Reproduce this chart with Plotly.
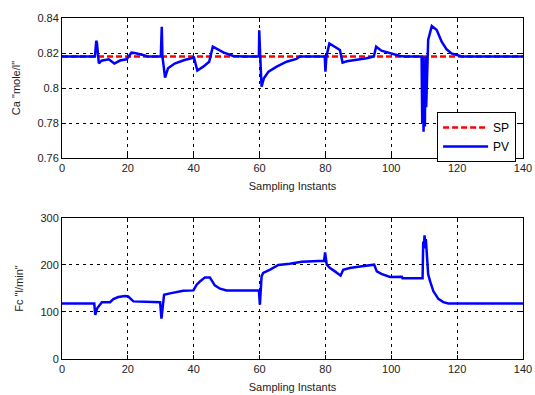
import plotly.graph_objects as go

# ---- data ----
x_range = [0, 140]
sp_x = [0, 140]
sp_y = [0.818, 0.818]

ca_x = [0, 10.0, 10.4, 10.6, 11.2, 12.0, 14.2, 15.9, 17.6, 19.6, 21.1, 22.1, 24.6, 26.0,
        30.0, 30.3, 30.5, 31.3, 32.2, 34.2, 37.2, 39.7, 40.0, 41.1, 42.9, 44.7, 45.8,
        49.0, 52.0, 55.0, 59.8, 59.9, 60.2, 60.6, 61.3, 62.7, 65.2, 68.2, 71.2, 72.2,
        79.8, 80.0, 80.3, 81.2, 84.4, 85.2, 86.5, 89.5, 92.5, 94.7, 95.4, 97.0, 99.6,
        102.7, 104.0, 109.2, 109.4, 109.6, 109.8, 110.0, 110.2, 110.4, 110.6, 110.9,
        111.2, 112.3, 113.8, 115.3, 116.8, 118.3, 119.9, 121.4, 140]
ca_y = [0.818, 0.818, 0.827, 0.826, 0.814, 0.8156, 0.8164, 0.814, 0.8157, 0.8164, 0.8202,
        0.820, 0.8189, 0.818,
        0.818, 0.835, 0.818, 0.806, 0.8113, 0.814, 0.816, 0.8172, 0.818, 0.810, 0.8122,
        0.815, 0.8236, 0.8204, 0.8183, 0.818, 0.818, 0.833, 0.818, 0.8007, 0.8055, 0.8093,
        0.8122, 0.815, 0.8166, 0.818,
        0.818, 0.8093, 0.818, 0.8255, 0.8217, 0.8145, 0.8153, 0.816, 0.817, 0.818, 0.8236,
        0.8213, 0.8198, 0.8183, 0.818, 0.818, 0.780, 0.818, 0.775, 0.800, 0.778, 0.818,
        0.789, 0.8187, 0.8274, 0.8354, 0.8331, 0.8265, 0.8221, 0.8198, 0.8187, 0.818, 0.818]

fc_x = [0, 9.8, 10.1, 10.7, 12.1, 14.6, 15.6, 17.1, 19.1, 20.1, 21.7, 29.8, 30.2, 31.0,
        32.8, 34.8, 36.8, 39.9, 40.9, 41.9, 43.4, 44.9, 46.4, 48.0, 50.0, 59.8, 60.1,
        60.6, 61.1, 63.2, 65.7, 69.2, 72.8, 79.6, 79.9, 80.4, 81.4, 82.9, 84.6, 85.4,
        87.4, 90.5, 94.0, 94.8, 95.6, 97.0, 99.6, 103.2, 103.4, 109.5, 109.7, 109.9,
        110.1, 110.3, 110.5, 110.8, 111.2, 111.8, 112.8, 114.3, 115.8, 117.3, 140]
fc_y = [118, 118, 94, 108, 121, 121, 127.6, 131.9, 134, 133, 122.6, 121, 85.7, 136.8,
        139.6, 142.4, 145.3, 146, 158, 165, 173.6, 173.6, 156.6, 149.6, 146, 146, 115.6,
        175.8, 183, 190, 200, 202.8, 207, 209, 227, 200.7, 193.6, 186.4, 177.3, 190,
        193.6, 197, 200.7, 200.7, 186.4, 181, 174.5, 175, 172, 172, 250, 235,
        263, 245, 255, 222, 180, 165, 144, 128, 121, 118, 118]

x_ticks = [0, 20, 40, 60, 80, 100, 120, 140]
ca_ticks = [0.76, 0.78, 0.8, 0.82, 0.84]
ca_tick_text = ["0.76", "0.78", "0.8", "0.82", "0.84"]
fc_ticks = [0, 100, 200, 300]

# ---- figure ----
fig = go.Figure()
fig.add_trace(go.Scatter(x=sp_x, y=sp_y, mode="lines", name="SP",
                         line=dict(color="#ff0000", width=2.5, dash="6px,3px"),
                         xaxis="x", yaxis="y"))
fig.add_trace(go.Scatter(x=ca_x, y=ca_y, mode="lines", name="PV",
                         line=dict(color="#0000ff", width=2.5),
                         xaxis="x", yaxis="y"))
fig.add_trace(go.Scatter(x=fc_x, y=fc_y, mode="lines", showlegend=False,
                         line=dict(color="#0000ff", width=2.5),
                         xaxis="x2", yaxis="y2"))

font = dict(family="Liberation Sans, Arial, sans-serif", size=11, color="#222222")
grid = dict(showgrid=True, gridcolor="#000000", griddash="3px,4px", gridwidth=1,
            zeroline=False, showline=True, linecolor="#000000", linewidth=1,
            mirror="ticks", ticks="inside", ticklen=4, tickcolor="#000000",
            tickfont=font, automargin=False)

fig.update_layout(
    width=535, height=395,
    margin=dict(l=62, r=12, t=18, b=36),
    paper_bgcolor="white", plot_bgcolor="white",
    font=font,
    xaxis=dict(domain=[0, 1], range=x_range, tickvals=x_ticks, anchor="y",
               title=dict(text="Sampling Instants", font=font, standoff=9), **grid),
    yaxis=dict(domain=[0.5894, 1.0], range=[0.76, 0.84], tickvals=ca_ticks,
               ticktext=ca_tick_text, anchor="x",
               title=dict(text='Ca "mole/l"', font=font, standoff=14), **grid),
    xaxis2=dict(domain=[0, 1], range=x_range, tickvals=x_ticks, anchor="y2",
                title=dict(text="Sampling Instants", font=font, standoff=9), **grid),
    yaxis2=dict(domain=[0, 0.4135], range=[0, 300], tickvals=fc_ticks, anchor="x2",
                title=dict(text='Fc "l/min"', font=font, standoff=14), **grid),
    legend=dict(x=0.985, y=0.724, xanchor="right", yanchor="top",
                bgcolor="white", bordercolor="#000000", borderwidth=1,
                font=dict(family="Liberation Sans, Arial, sans-serif", size=12, color="#000000"),
                tracegroupgap=0, itemwidth=45),
    showlegend=True,
)

fig.write_html("out.html", config={"displayModeBar": False},
               post_script="document.body.style.margin='0';document.body.style.overflow='hidden';")
